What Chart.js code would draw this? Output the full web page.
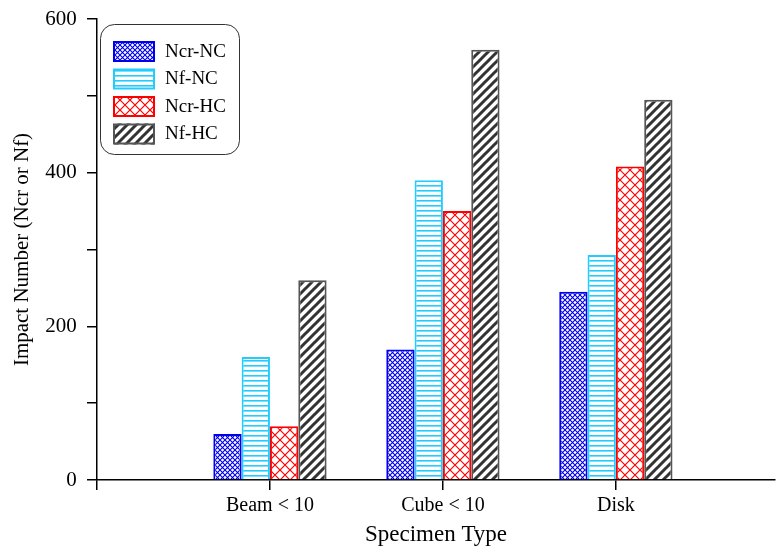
<!DOCTYPE html>
<html>
<head>
<meta charset="utf-8">
<script src="https://cdn.jsdelivr.net/npm/chart.js@4"></script>
<style>
  body { margin: 0; background: #fff; }
  #wrap { width: 777px; height: 549px; }
</style>
</head>
<body>
<div id="wrap"><canvas id="impactChart" width="777" height="549"></canvas></div>

<script>
  // data
  var categories = ['Beam < 10', 'Cube < 10', 'Disk'];
  var seriesNames = ['Ncr-NC', 'Nf-NC', 'Ncr-HC', 'Nf-HC'];
  var ncrNC = [60, 170, 245];
  var nfNC = [160, 390, 293];
  var ncrHC = [70, 350, 408];
  var nfHC = [260, 560, 495];
  var yLabelTicks = [0, 200, 400, 600];

  Chart.defaults.font.family = '"Liberation Serif", "Times New Roman", serif';
  Chart.defaults.color = '#000';

  // fill patterns
  function makePattern(kind, color) {
    var c = document.createElement('canvas');
    var g = c.getContext('2d');
    var s;
    if (kind === 'mesh') {
      s = 5; c.width = s; c.height = s;
      g.fillStyle = '#fff'; g.fillRect(0, 0, s, s);
      g.strokeStyle = color; g.lineWidth = 1.1;
      g.beginPath();
      g.moveTo(0, 0); g.lineTo(s, s);
      g.moveTo(0, s); g.lineTo(s, 0);
      g.stroke();
    } else if (kind === 'hlines') {
      c.width = 8; c.height = 5;
      g.fillStyle = '#fff'; g.fillRect(0, 0, 8, 5);
      g.fillStyle = color; g.fillRect(0, 0, 8, 1.6);
    } else if (kind === 'cross') {
      s = 10; c.width = s; c.height = s;
      g.fillStyle = '#fff'; g.fillRect(0, 0, s, s);
      g.strokeStyle = color; g.lineWidth = 1.2;
      g.beginPath();
      g.moveTo(0, 0); g.lineTo(s, s);
      g.moveTo(0, s); g.lineTo(s, 0);
      g.stroke();
    } else {
      s = 9; c.width = s; c.height = s;
      g.fillStyle = '#fff'; g.fillRect(0, 0, s, s);
      g.strokeStyle = color; g.lineWidth = 3;
      g.beginPath();
      g.moveTo(-1, s + 1); g.lineTo(s + 1, -1);
      g.moveTo(-2, 2); g.lineTo(2, -2);
      g.moveTo(s - 2, s + 2); g.lineTo(s + 2, s - 2);
      g.stroke();
    }
    return g.createPattern(c, 'repeat');
  }

  function pts(arr) {
    return arr.map(function (v, i) { return { x: i + 1, y: v }; });
  }

  // legend drawn inside the plot, top left, with a rounded frame
  var boxLegend = {
    id: 'boxLegend',
    afterDraw: function (chart) {
      var ctx = chart.ctx;
      ctx.save();
      ctx.strokeStyle = '#333';
      ctx.lineWidth = 1;
      ctx.beginPath();
      ctx.roundRect(100.5, 24.5, 139, 130, 14);
      ctx.stroke();
      chart.data.datasets.forEach(function (ds, i) {
        var y = 41 + i * 27.5;
        ctx.fillStyle = ds.backgroundColor;
        ctx.fillRect(113, y, 42, 21);
        ctx.strokeStyle = ds.borderColor;
        ctx.lineWidth = 2;
        ctx.strokeRect(114, y + 1, 40, 19);
        ctx.fillStyle = '#000';
        ctx.font = '19px "Liberation Serif", serif';
        ctx.textBaseline = 'middle';
        ctx.fillText(ds.label, 165, y + 11);
      });
      ctx.restore();
    }
  };

  var ctx = document.getElementById('impactChart').getContext('2d');
  var impactChart = new Chart(ctx, {
    type: 'bar',
    data: {
      datasets: [{
        label: seriesNames[0],
        data: pts(ncrNC),
        backgroundColor: makePattern('mesh', '#0000ee'),
        borderColor: '#0000ee'
      }, {
        label: seriesNames[1],
        data: pts(nfNC),
        backgroundColor: makePattern('hlines', '#22ccff'),
        borderColor: '#22ccff'
      }, {
        label: seriesNames[2],
        data: pts(ncrHC),
        backgroundColor: makePattern('cross', '#ff0000'),
        borderColor: '#ff0000'
      }, {
        label: seriesNames[3],
        data: pts(nfHC),
        backgroundColor: makePattern('stripe', '#333'),
        borderColor: '#555'
      }]
    },
    options: {
      responsive: false,
      animation: false,
      layout: { padding: { left: 0, top: 19, right: 2, bottom: 0 } },
      datasets: {
        bar: { borderWidth: 2, categoryPercentage: 0.655, barPercentage: 1.0 }
      },
      plugins: {
        legend: { display: false },
        tooltip: { enabled: false }
      },
      scales: {
        x: {
          type: 'linear',
          min: 0,
          max: 3.92,
          offset: false,
          afterBuildTicks: function (scale) {
            scale.ticks = [0, 1, 2, 3].map(function (v) { return { value: v }; });
          },
          afterFit: function (scale) { scale.height = 69; },
          ticks: {
            font: { size: 20 },
            padding: 4,
            maxRotation: 0,
            autoSkip: false,
            callback: function (v) { return v >= 1 ? categories[v - 1] : ''; }
          },
          grid: {
            offset: false,
            drawOnChartArea: false,
            color: '#000',
            lineWidth: 1.5,
            tickLength: 10
          },
          border: { color: '#000', width: 1.5 },
          title: {
            display: true,
            text: 'Specimen Type',
            font: { size: 23 },
            padding: { top: 0, bottom: 0 }
          }
        },
        y: {
          min: 0,
          max: 600,
          afterFit: function (scale) { scale.width = 97; },
          ticks: {
            stepSize: 100,
            font: { size: 21 },
            padding: 5,
            callback: function (v) { return yLabelTicks.indexOf(v) >= 0 ? v + ' ' : ''; }
          },
          grid: {
            drawOnChartArea: false,
            color: '#000',
            lineWidth: 1.5,
            tickLength: 10
          },
          border: { color: '#000', width: 1.5 },
          title: {
            display: true,
            text: 'Impact Number (Ncr or Nf)',
            font: { size: 21 },
            padding: { top: 10, bottom: 10 }
          }
        }
      }
    },
    plugins: [boxLegend]
  });
</script>
</body>
</html>
